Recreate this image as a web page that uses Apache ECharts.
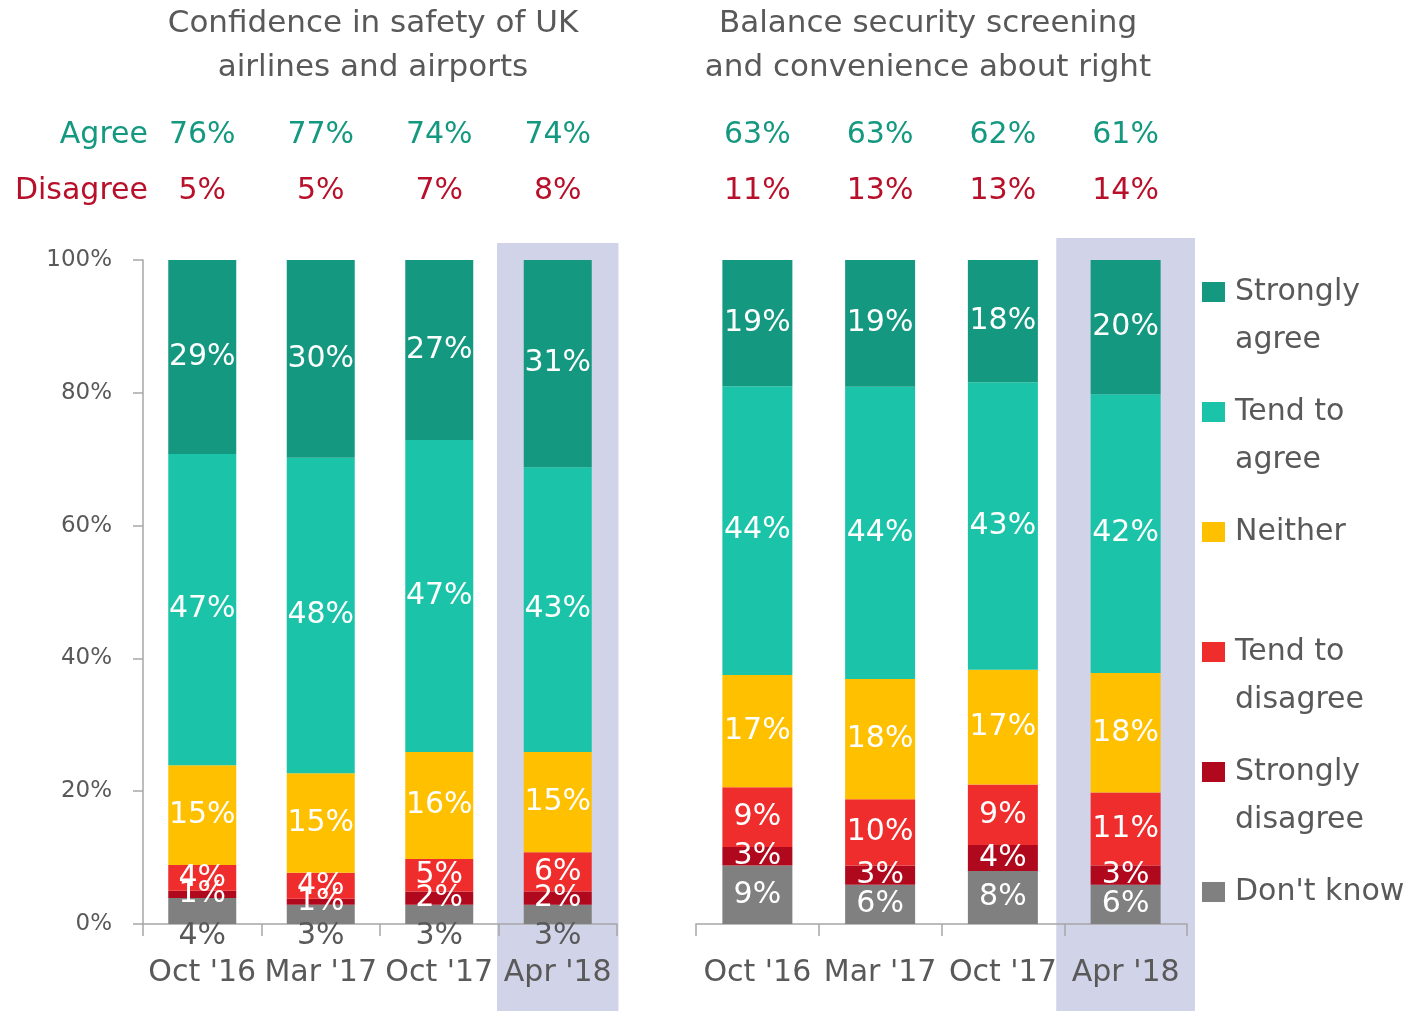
<!DOCTYPE html>
<html>
<head>
<meta charset="utf-8">
<script src="https://cdn.jsdelivr.net/npm/echarts@6/dist/echarts.min.js"></script>
<style>
  html, body { margin: 0; padding: 0; background: #fff; }
  #chart { width: 1411px; height: 1011px; }
</style>
</head>
<body>
<div id="chart"></div>
<script>
// survey waves
const categories = ["Oct '16", "Mar '17", "Oct '17", "Apr '18"]
const seriesNames = ['Strongly agree', 'Tend to agree', 'Neither', 'Tend to disagree', 'Strongly disagree', "Don't know"]

// Confidence in safety of UK airlines and airports (% of respondents)
const safetyStronglyAgree = [29.2, 29.8, 27.1, 31.2]
const safetyTendAgree = [46.9, 47.5, 47.0, 42.9]
const safetyNeither = [15.0, 15.0, 16.1, 15.1]
const safetyTendDisagree = [3.9, 3.9, 4.9, 5.9]
const safetyStronglyDisagree = [1.1, 0.9, 2.0, 2.0]
const safetyDontKnow = [3.9, 2.9, 2.9, 2.9]
const safetyAgree = [76, 77, 74, 74]
const safetyDisagree = [5, 5, 7, 8]

// Balance security screening and convenience about right
const screenStronglyAgree = [19.0, 19.1, 18.4, 20.2]
const screenTendAgree = [43.5, 44.0, 43.3, 42.0]
const screenNeither = [16.9, 18.1, 17.3, 18.0]
const screenTendDisagree = [9.0, 10.0, 9.1, 11.0]
const screenStronglyDisagree = [2.8, 2.9, 3.9, 2.9]
const screenDontKnow = [8.8, 5.9, 8.0, 5.9]
const screenAgree = [63, 63, 62, 61]
const screenDisagree = [11, 13, 13, 14]

const yTicks = [0, 20, 40, 60, 80, 100]

const colors = {
  'Strongly agree': '#149880',
  'Tend to agree': '#1bc4a9',
  'Neither': '#ffc000',
  'Tend to disagree': '#f02d2d',
  'Strongly disagree': '#b0081d',
  "Don't know": '#808080'
}
const FONT = '"DejaVu Sans", Verdana, sans-serif'
const GREY = '#595959'
const GREEN = '#149880'
const RED = '#b8102a'
const BAND = '#d1d3e8'

const panels = [
  {
    stacks: {
      "Don't know": safetyDontKnow,
      'Strongly disagree': safetyStronglyDisagree,
      'Tend to disagree': safetyTendDisagree,
      'Neither': safetyNeither,
      'Tend to agree': safetyTendAgree,
      'Strongly agree': safetyStronglyAgree
    },
    agree: safetyAgree,
    disagree: safetyDisagree,
    barWidth: 68
  },
  {
    stacks: {
      "Don't know": screenDontKnow,
      'Strongly disagree': screenStronglyDisagree,
      'Tend to disagree': screenTendDisagree,
      'Neither': screenNeither,
      'Tend to agree': screenTendAgree,
      'Strongly agree': screenStronglyAgree
    },
    agree: screenAgree,
    disagree: screenDisagree,
    barWidth: 70
  }
]

const grids = [
  { left: 143, top: 260, width: 474, height: 664 },
  { left: 696, top: 260, width: 491, height: 664 }
]

const xAxes = []
const yAxes = []
const series = []

panels.forEach((panel, p) => {
  // bottom axis with wave names
  xAxes.push({
    gridIndex: p,
    type: 'category',
    data: categories,
    position: 'bottom',
    axisLine: { lineStyle: { color: '#a6a6a6', width: 1.5 } },
    axisTick: { show: true, interval: 0, length: 12, lineStyle: { color: '#a6a6a6', width: 1.5 } },
    axisLabel: { interval: 0, fontSize: 30, color: GREY, fontFamily: FONT, margin: 34 }
  })
  // top axis carrying the agree / disagree net figures
  xAxes.push({
    gridIndex: p,
    type: 'category',
    data: categories,
    position: 'top',
    axisLine: { show: false },
    axisTick: { show: false },
    axisLabel: {
      interval: 0,
      margin: 41,
      formatter: (v, i) => `{a|${panel.agree[i]}%}\n{d|${panel.disagree[i]}%}`,
      rich: {
        a: { fontSize: 30, color: GREEN, fontFamily: FONT, lineHeight: 56 },
        d: { fontSize: 30, color: RED, fontFamily: FONT, lineHeight: 56 }
      }
    }
  })
  yAxes.push({
    gridIndex: p,
    type: 'value',
    min: yTicks[0],
    max: yTicks[yTicks.length - 1],
    interval: yTicks[1] - yTicks[0],
    show: p === 0,
    splitLine: { show: false },
    axisLine: { show: true, lineStyle: { color: '#a6a6a6', width: 1.5 } },
    axisTick: { show: true, length: 10, lineStyle: { color: '#a6a6a6', width: 1.5 } },
    axisLabel: { fontSize: 23, color: GREY, fontFamily: FONT, margin: 31, formatter: '{value}%' }
  })

  Object.keys(panel.stacks).forEach(name => {
    const outside = p === 0 && name === "Don't know"
    series.push({
      name: name,
      type: 'bar',
      stack: 'panel' + p,
      xAxisIndex: p * 2,
      yAxisIndex: p,
      barWidth: panel.barWidth,
      data: panel.stacks[name],
      itemStyle: { color: colors[name] },
      label: {
        show: true,
        position: outside ? 'bottom' : 'inside',
        distance: outside ? -3 : 5,
        fontSize: 30,
        fontFamily: FONT,
        color: outside ? GREY : '#fff',
        formatter: d => Math.round(d.value) + '%'
      },
      animation: false
    })
  })
})

const chart = echarts.init(document.getElementById('chart'))

const option = {
  animation: false,
  color: seriesNames.map(n => colors[n]),
  title: [
    {
      text: 'Confidence in safety of UK\nairlines and airports',
      left: 373, top: 2, textAlign: 'center', padding: 0,
      textStyle: { fontSize: 31, fontWeight: 'normal', color: GREY, fontFamily: FONT, lineHeight: 44 }
    },
    {
      text: 'Balance security screening\nand convenience about right',
      left: 928, top: 2, textAlign: 'center', padding: 0,
      textStyle: { fontSize: 31, fontWeight: 'normal', color: GREY, fontFamily: FONT, lineHeight: 44 }
    }
  ],
  legend: {
    data: seriesNames,
    orient: 'vertical',
    left: 1202,
    top: 220,
    padding: 0,
    itemGap: -24,
    itemWidth: 23,
    itemHeight: 20,
    icon: 'rect',
    selectedMode: false,
    formatter: name => {
      let t = name.replace(/ (agree|disagree)$/, '\n$1')
      if (t.indexOf('\n') < 0) t += '\n '
      return ' \n' + t
    },
    textStyle: { fontSize: 30, color: GREY, fontFamily: FONT, lineHeight: 48, padding: [0, 0, 0, 5] }
  },
  grid: grids,
  xAxis: xAxes,
  yAxis: yAxes,
  series: series
}

chart.setOption(option)

// highlight band behind the latest wave in each panel
const last = categories[categories.length - 1]
const bandPad = [1.5, 8]
const bandTop = [243, 238]
const bands = grids.map((g, p) => {
  const cx = chart.convertToPixel({ xAxisIndex: p * 2 }, last)
  const half = g.width / categories.length / 2 + bandPad[p]
  return {
    type: 'rect',
    z: -10,
    silent: true,
    shape: { x: cx - half, y: bandTop[p], width: half * 2, height: 1011 - bandTop[p] },
    style: { fill: BAND }
  }
})

chart.setOption({
  graphic: bands.concat([
    {
      type: 'text', x: 148, y: 135, silent: true,
      style: { text: 'Agree', fill: GREEN, fontSize: 30, fontFamily: FONT, align: 'right', verticalAlign: 'middle' }
    },
    {
      type: 'text', x: 148, y: 191, silent: true,
      style: { text: 'Disagree', fill: RED, fontSize: 30, fontFamily: FONT, align: 'right', verticalAlign: 'middle' }
    }
  ])
})
</script>
</body>
</html>
